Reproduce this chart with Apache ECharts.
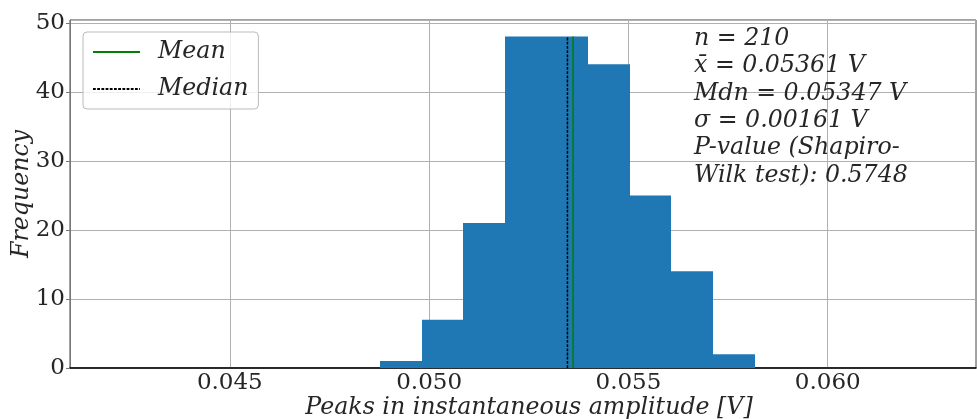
<!DOCTYPE html>
<html>
<head>
<meta charset="utf-8">
<script src="https://cdn.jsdelivr.net/npm/echarts@6/dist/echarts.min.js"></script>
<style>
  html, body { margin: 0; padding: 0; background: #fff; }
  #main { width: 977px; height: 419px; }
</style>
</head>
<body>
<div id="main"></div>
<script>
// histogram bins (edges) and their counts
var binEdges = [0.04876, 0.04981, 0.05085, 0.05190, 0.05294, 0.05399, 0.05503, 0.05608, 0.05712, 0.05817];
var counts = [1, 7, 21, 48, 48, 44, 25, 14, 2];
var meanValue = 0.05361;
var medianValue = 0.05347;
var xTicks = [0.045, 0.050, 0.055, 0.060];
var statLines = [
    'n = 210',
    'x\u0304 = 0.05361 V',
    'Mdn = 0.05347 V',
    '\u03c3 = 0.00161 V',
    'P-value (Shapiro-',
    'Wilk test): 0.5748'
];

var FONT = 'DejaVu Serif';
var TXT = '#262626';
var FS = 23;     // tick labels
var FSI = 23.7;  // italic texts

var bins = counts.map(function (c, i) {
    return [binEdges[i], binEdges[i + 1], c];
});
var maxCount = Math.max.apply(null, counts);

var myChart = echarts.init(document.getElementById('main'));

myChart.setOption({
    backgroundColor: '#fff',
    animation: false,
    grid: {
        left: 70,
        right: 1,
        top: 20,
        bottom: 51,
        outerBoundsMode: 'none',
        containLabel: false,
        show: true,
        borderColor: '#444',
        borderWidth: 1
    },
    xAxis: {
        type: 'value',
        min: 0.04099,
        max: 0.06372,
        axisLine: { show: true, lineStyle: { color: '#000', width: 1.5 } },
        axisTick: { show: false, customValues: xTicks },
        axisLabel: {
            customValues: xTicks,
            fontFamily: FONT,
            fontSize: FS,
            color: TXT,
            margin: 4,
            formatter: function (v) { return v.toFixed(3); }
        },
        splitLine: { show: true, lineStyle: { color: '#b0b0b0', width: 1 } },
        name: 'Peaks in instantaneous amplitude [V]',
        nameLocation: 'middle',
        nameGap: 28,
        nameMoveOverlap: false,
        nameTextStyle: { fontFamily: FONT, fontStyle: 'italic', fontSize: FSI, color: TXT, padding: [0, 0, 0, 12] }
    },
    yAxis: {
        type: 'value',
        min: 0,
        max: 50.4,
        interval: 10,
        axisLine: { show: true, lineStyle: { color: '#777', width: 1 } },
        axisTick: { show: true, length: 4, lineStyle: { color: '#777' } },
        axisLabel: {
            fontFamily: FONT,
            fontSize: FS,
            color: TXT,
            margin: 5,
            showMaxLabel: false,
            formatter: function (v) { return v % 10 === 0 ? String(v) : ''; }
        },
        splitLine: { show: true, lineStyle: { color: '#b0b0b0', width: 1 } },
        name: 'Frequency',
        nameLocation: 'middle',
        nameGap: 36,
        nameMoveOverlap: false,
        nameTextStyle: { fontFamily: FONT, fontStyle: 'italic', fontSize: FSI, color: TXT }
    },
    legend: {
        left: 83,
        top: 32,
        orient: 'vertical',
        data: ['Mean', 'Median'],
        backgroundColor: 'rgba(255,255,255,0.8)',
        borderColor: '#bbb',
        borderWidth: 1,
        borderRadius: 4,
        padding: [8, 10, 8, 9],
        itemWidth: 47,
        itemHeight: 14,
        itemGap: 13,
        itemStyle: { opacity: 0 },
        textStyle: { fontFamily: FONT, fontStyle: 'italic', fontSize: FSI, color: TXT, padding: [0, 0, 0, 13] }
    },
    series: [
        {
            name: 'hist',
            type: 'custom',
            data: bins,
            encode: { x: [0, 1], y: 2 },
            renderItem: function (params, api) {
                var p0 = api.coord([api.value(0), api.value(2)]);
                var p1 = api.coord([api.value(1), 0]);
                var x0 = Math.round(p0[0]);
                var x1 = Math.round(p1[0]);
                return {
                    type: 'rect',
                    shape: { x: x0, y: p0[1], width: x1 - x0, height: p1[1] - p0[1] },
                    style: { fill: '#1f77b4' }
                };
            },
            z: 3
        },
        {
            name: 'Mean',
            type: 'line',
            data: [[meanValue, 0], [meanValue, maxCount]],
            symbol: 'none',
            color: '#008000',
            lineStyle: { color: '#008000', width: 1.5 },
            z: 4
        },
        {
            name: 'Median',
            type: 'line',
            data: [[medianValue, 0], [medianValue, maxCount]],
            symbol: 'none',
            color: '#000',
            lineStyle: { color: '#000', width: 1.5, type: [2.8, 1.4] },
            z: 4
        }
    ],
    graphic: statLines.map(function (s, i) {
        return {
            type: 'text',
            left: 694,
            top: 27 + i * 27.3,
            z: 10,
            style: {
                text: s,
                fontFamily: FONT,
                fontStyle: 'italic',
                fontSize: FSI,
                fill: TXT
            }
        };
    })
});
window.onresize = function () {
    myChart.resize();
};
</script>
</body>
</html>
